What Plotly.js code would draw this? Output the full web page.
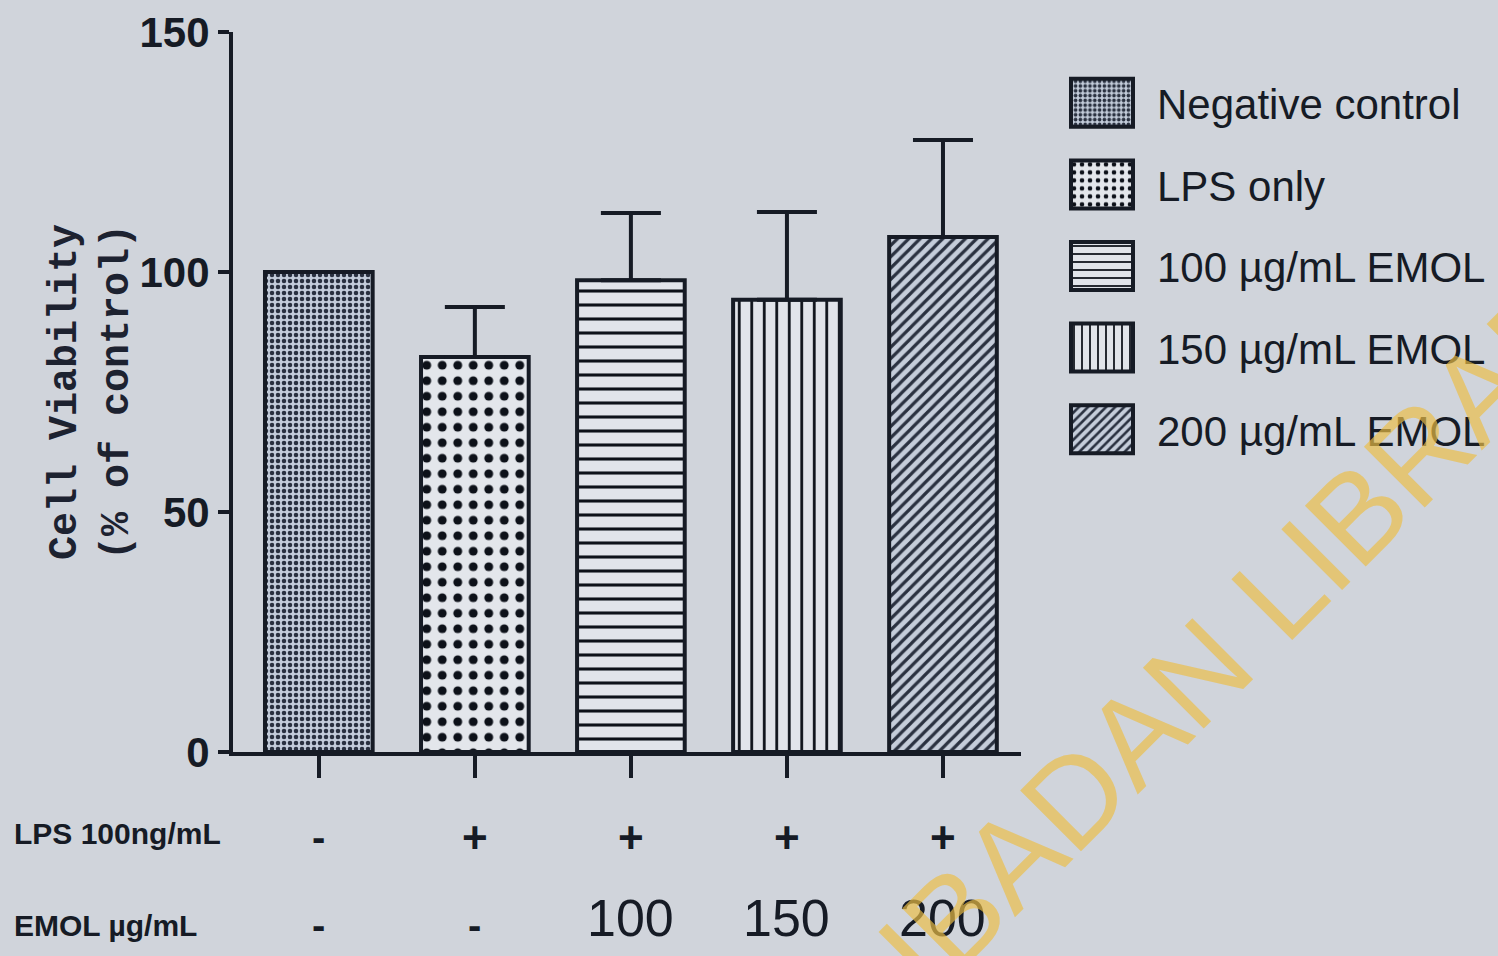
<!DOCTYPE html>
<html>
<head>
<meta charset="utf-8">
<script src="https://cdn.plot.ly/plotly-3.0.1.min.js"></script>
<style>
  html, body { margin: 0; padding: 0; background: #d0d4db; }
  #chart { width: 1498px; height: 956px; }
</style>
</head>
<body>
<div id="chart"></div>
<script>
// ---- data ----
const groups = ['Negative control', 'LPS only', '100 µg/mL EMOL', '150 µg/mL EMOL', '200 µg/mL EMOL'];
const viability = [100, 82.3, 98.3, 94.2, 107.3];
const sem = [0, 10.4, 14.0, 18.3, 20.2];
const yTickVals = [0, 50, 100, 150];
const lpsLabels = ['-', '+', '+', '+', '+'];
const emolLabels = ['-', '-', '100', '150', '200'];
const rowHeaders = ['LPS 100ng/mL', 'EMOL µg/mL'];
const watermark = 'IBADAN LIBRARY';

// ---- styles ----
const ink = '#161b25';
const sans = '"Liberation Sans", Arial, sans-serif';
const patterns = [
  {shape: '.', size: 6, solidity: 0.45, fgcolor: '#2a3140', bgcolor: '#c3ccda'},
  {shape: '.', size: 15.5, solidity: 0.26, fgcolor: '#0d1119', bgcolor: '#e3e6eb'},
  {shape: '-', size: 14, solidity: 0.22, fgcolor: '#0d1119', bgcolor: '#e1e4ea'},
  {shape: '|', size: 12.5, solidity: 0.22, fgcolor: '#0d1119', bgcolor: '#e1e4ea'},
  {shape: '/', size: 8, solidity: 0.4, fgcolor: '#2a3140', bgcolor: '#c5cdda'}
];

const traces = groups.map((g, i) => ({
  type: 'bar',
  name: g,
  legendgroup: 'g' + i,
  x: [g],
  y: [viability[i]],
  width: 0.69,
  marker: {
    color: patterns[i].bgcolor,
    line: {color: ink, width: 4},
    pattern: patterns[i]
  },
  error_y: {
    type: 'data', symmetric: false,
    array: [sem[i]], arrayminus: [0],
    visible: sem[i] > 0,
    color: ink, thickness: 4, width: 30
  },
  hoverinfo: 'x+y'
}));

// plot area: x 233..1021 px, y 32..752 px
const L = 233, W = 788, T = 32, H = 720;
const px2x = p => (p - L) / W;
const py2y = p => (T + H - p) / H;

const annotations = [];
rowHeaders.forEach((t, r) => {
  annotations.push({
    text: t, xref: 'paper', yref: 'paper',
    x: px2x(12), y: py2y(r === 0 ? 833 : 925),
    xanchor: 'left', yanchor: 'middle', showarrow: false,
    font: {family: sans, size: 30, color: ink, weight: 'bold'}
  });
});
lpsLabels.forEach((t, i) => {
  annotations.push({
    text: t, xref: 'x', yref: 'paper', x: groups[i], y: py2y(837),
    xanchor: 'center', yanchor: 'middle', showarrow: false,
    font: {family: sans, size: t === '+' ? 44 : 40, color: ink, weight: 'bold'}
  });
});
emolLabels.forEach((t, i) => {
  const dash = t === '-';
  annotations.push({
    text: t, xref: 'x', yref: 'paper', x: groups[i], y: py2y(dash ? 925 : 918),
    xanchor: 'center', yanchor: 'middle', showarrow: false,
    font: dash ? {family: sans, size: 40, color: ink, weight: 'bold'}
               : {family: sans, size: 52, color: ink}
  });
});
annotations.push({
  text: watermark, xref: 'paper', yref: 'paper',
  x: px2x(1265), y: py2y(605), xanchor: 'center', yanchor: 'middle',
  textangle: -45, showarrow: false,
  font: {family: sans, size: 125, color: 'rgba(236,190,70,0.68)'}
});

const layout = {
  width: 1498, height: 956,
  paper_bgcolor: '#d0d4db', plot_bgcolor: 'rgba(0,0,0,0)',
  margin: {l: L, r: 1498 - L - W, t: T, b: 956 - T - H, pad: 0, autoexpand: false},
  barmode: 'overlay',
  showlegend: true,
  legend: {
    x: px2x(1047), y: py2y(69), xanchor: 'left', yanchor: 'top',
    bgcolor: 'rgba(0,0,0,0)', borderwidth: 0,
    itemwidth: 100, tracegroupgap: 24,
    font: {family: sans, size: 42, color: ink},
    itemclick: false, itemdoubleclick: false
  },
  xaxis: {
    type: 'category', categoryorder: 'array', categoryarray: groups,
    range: [-0.55, 4.5], fixedrange: true,
    showline: true, linecolor: ink, linewidth: 4,
    ticks: 'outside', ticklen: 22, tickwidth: 4, tickcolor: ink,
    showticklabels: false, showgrid: false, zeroline: false
  },
  yaxis: {
    range: [0, 150], fixedrange: true,
    tickvals: yTickVals, ticktext: yTickVals.map(String),
    showline: true, linecolor: ink, linewidth: 4,
    ticks: 'outside', ticklen: 11, tickwidth: 4, tickcolor: ink,
    ticklabelstandoff: 0,
    tickfont: {family: sans, size: 42, color: ink, weight: 'bold'},
    showgrid: false, zeroline: false,
    title: {
      text: 'Cell Viability<br>(% of control)',
      font: {family: '"Liberation Mono", "DejaVu Sans Mono", monospace', size: 40, color: '#1d2230', weight: 'bold'},
      standoff: 0
    }
  },
  annotations: annotations
};

function enlargeSwatches() {
  document.querySelectorAll('#chart g.legendpoints path').forEach(p => {
    p.setAttribute('d', 'M31,24H-31V-24H31Z');
  });
}

const gd = document.getElementById('chart');
Plotly.newPlot(gd, traces, layout, {displayModeBar: false}).then(() => {
  enlargeSwatches();
  gd.on('plotly_afterplot', enlargeSwatches);
  setTimeout(enlargeSwatches, 50);
  setTimeout(enlargeSwatches, 300);
});
</script>
</body>
</html>
